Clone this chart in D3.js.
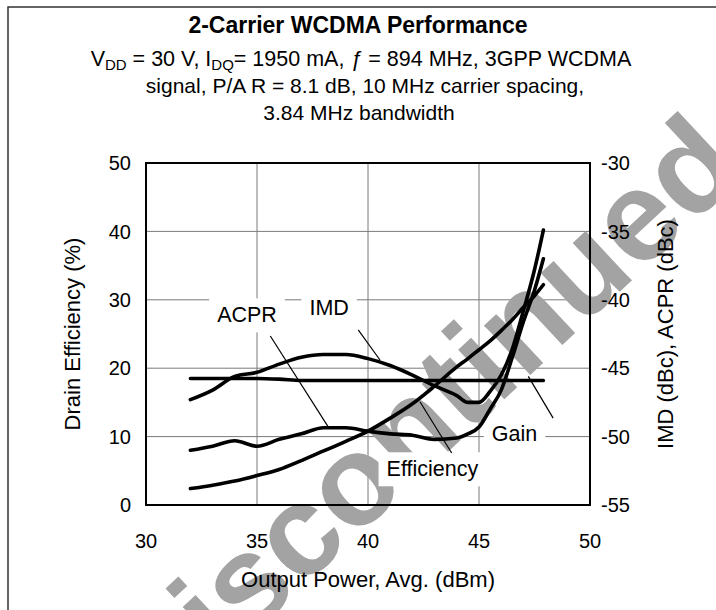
<!DOCTYPE html>
<html>
<head>
<meta charset="utf-8">
<script src="https://cdn.jsdelivr.net/npm/d3@7"></script>
<style>
  body { margin: 0; background: #fff; }
  svg { display: block; font-family: "Liberation Sans", Arial, sans-serif; }
  .grid line { stroke: #7a7a7a; stroke-width: 1; }
  .curve { fill: none; stroke: #000; stroke-width: 3.6; stroke-linejoin: round; stroke-linecap: round; }
  .leader { stroke: #000; stroke-width: 1.2; }
</style>
</head>
<body>
<script>
(function() {

    //chart values
    var pout = [32, 33, 34, 35, 36, 37, 38, 39, 40, 41, 42, 43, 44, 44.5, 45, 45.5, 46, 46.5, 47, 47.5, 47.9];
    var efficiency = [2.4, 2.9, 3.5, 4.3, 5.2, 6.5, 7.9, 9.3, 10.8, 12.7, 14.8, 17.4, 20.2, 21.4, 22.7, 24.0, 25.5, 27.1, 28.9, 30.6, 32.2];
    var gain = [18.5, 18.5, 18.5, 18.5, 18.4, 18.2, 18.2, 18.2, 18.2, 18.2, 18.2, 18.2, 18.2, 18.2, 18.2, 18.2, 18.2, 18.2, 18.2, 18.2, 18.2];
    var imd = [-47.3, -46.6, -45.6, -45.3, -44.7, -44.2, -44.0, -44.0, -44.3, -44.8, -45.5, -46.3, -47.0, -47.5, -47.5, -46.7, -45.5, -43.6, -40.8, -37.8, -34.9];
    var acpr = [-51.0, -50.7, -50.3, -50.7, -50.2, -49.8, -49.35, -49.35, -49.6, -49.8, -49.9, -50.2, -50.1, -49.8, -49.3, -48.0, -46.6, -44.2, -41.6, -39.3, -37.0];

    var xTicks = [30, 35, 40, 45, 50];
    var leftTicks = [0, 10, 20, 30, 40, 50];
    var rightTicks = [-55, -50, -45, -40, -35, -30];

    //callout labels: text, label anchor (pout, left value), leader from/to (pout, left value)
    var labelNames = ["ACPR", "IMD", "Efficiency", "Gain"];
    var labelAt = [[34.55, 26.7], [38.25, 27.8], [42.9, 4.2], [46.6, 9.3]];
    var leaderFrom = [[35.6, 24.7], [39.56, 25.6], [42.34, 15.1], [47.22, 18.8]];
    var leaderTo = [[38.2, 11.45], [40.54, 21.2], [43.77, 7.6], [48.34, 12.7]];

    var width = 716, height = 610;
    var margin = {top: 163, right: 126, bottom: 105, left: 146};

    var svg = d3.select("body")
        .append("svg")
        .attr("width", width)
        .attr("height", height);

    //outer frame (only top and left edges fall inside the picture)
    svg.append("rect")
        .attr("x", 8)
        .attr("y", 7)
        .attr("width", width + 20)
        .attr("height", height + 20)
        .attr("fill", "none")
        .attr("stroke", "#333")
        .attr("stroke-width", 1.5);

    var x = d3.scaleLinear().domain([30, 50]).range([margin.left, width - margin.right]);
    var yL = d3.scaleLinear().domain([0, 50]).range([height - margin.bottom, margin.top]);
    var yR = d3.scaleLinear().domain([-55, -30]).range([height - margin.bottom, margin.top]);

    //titles
    svg.append("text")
        .attr("x", 358)
        .attr("y", 33)
        .attr("text-anchor", "middle")
        .style("font-size", "23px")
        .style("font-weight", "bold")
        .text("2-Carrier WCDMA Performance");

    var sub = svg.append("text")
        .attr("x", 361)
        .attr("y", 66)
        .attr("text-anchor", "middle")
        .style("font-size", "21.5px");
    sub.append("tspan").text("V");
    sub.append("tspan").attr("dy", 4).style("font-size", "15px").text("DD");
    sub.append("tspan").attr("dy", -4).text(" = 30 V, I");
    sub.append("tspan").attr("dy", 4).style("font-size", "15px").text("DQ");
    sub.append("tspan").attr("dy", -4).text("= 1950 mA, ");
    sub.append("tspan").style("font-style", "italic").text("\u0192");
    sub.append("tspan").text(" = 894 MHz, 3GPP WCDMA");

    svg.append("text")
        .attr("x", 365)
        .attr("y", 93)
        .attr("text-anchor", "middle")
        .style("font-size", "21px")
        .text("signal, P/A R = 8.1 dB, 10 MHz carrier spacing,");

    svg.append("text")
        .attr("x", 359)
        .attr("y", 120)
        .attr("text-anchor", "middle")
        .style("font-size", "21px")
        .text("3.84 MHz bandwidth");

    //grid
    var grid = svg.append("g").attr("class", "grid");
    grid.selectAll(".v")
        .data(xTicks.slice(1, -1))
        .enter()
        .append("line")
        .attr("x1", function(d){ return x(d); })
        .attr("x2", function(d){ return x(d); })
        .attr("y1", yL(0))
        .attr("y2", yL(50));
    grid.selectAll(".h")
        .data(leftTicks.slice(1, -1))
        .enter()
        .append("line")
        .attr("x1", x(30))
        .attr("x2", x(50))
        .attr("y1", function(d){ return yL(d); })
        .attr("y2", function(d){ return yL(d); });

    //watermark
    svg.append("text")
        .attr("transform", "translate(451,449) rotate(-43)")
        .attr("text-anchor", "middle")
        .style("font-size", "128px")
        .style("font-weight", "bold")
        .attr("fill", "#a3a3a3")
        .text("Discontinued");

    //callout labels with white boxes that break the grid
    var labels = svg.append("g");
    labelNames.forEach(function(name, i){
        var t = labels.append("text")
            .attr("x", x(labelAt[i][0]))
            .attr("y", yL(labelAt[i][1]))
            .attr("text-anchor", "middle")
            .style("font-size", "21.5px")
            .text(name);
        var bb = t.node().getBBox();
        labels.insert("rect", "text")
            .attr("x", bb.x - 8)
            .attr("y", bb.y - 5)
            .attr("width", bb.width + 16)
            .attr("height", bb.height + 10)
            .attr("fill", "#fff");
    });

    //plot frame
    svg.append("rect")
        .attr("x", x(30))
        .attr("y", yL(50))
        .attr("width", x(50) - x(30))
        .attr("height", yL(0) - yL(50))
        .attr("fill", "none")
        .attr("stroke", "#000")
        .attr("stroke-width", 2);

    //curves
    var lineL = function(vals){
        return d3.line()
            .x(function(d, i){ return x(pout[i]); })
            .y(function(d){ return yL(d); })
            .curve(d3.curveMonotoneX)(vals);
    };
    var lineR = function(vals){
        return d3.line()
            .x(function(d, i){ return x(pout[i]); })
            .y(function(d){ return yR(d); })
            .curve(d3.curveMonotoneX)(vals);
    };
    svg.append("path").attr("class", "curve").attr("d", lineL(gain));
    svg.append("path").attr("class", "curve").attr("d", lineL(efficiency));
    svg.append("path").attr("class", "curve").attr("d", lineR(imd));
    svg.append("path").attr("class", "curve").attr("d", lineR(acpr));

    //leaders
    svg.selectAll(".leader")
        .data(leaderFrom)
        .enter()
        .append("line")
        .attr("class", "leader")
        .attr("x1", function(d){ return x(d[0]); })
        .attr("y1", function(d){ return yL(d[1]); })
        .attr("x2", function(d, i){ return x(leaderTo[i][0]); })
        .attr("y2", function(d, i){ return yL(leaderTo[i][1]); });

    //axes tick labels
    svg.selectAll(".lt")
        .data(leftTicks)
        .enter()
        .append("text")
        .attr("x", x(30) - 15)
        .attr("y", function(d){ return yL(d); })
        .attr("dy", "0.36em")
        .attr("text-anchor", "end")
        .style("font-size", "20px")
        .text(function(d){ return d; });

    svg.selectAll(".rt")
        .data(rightTicks)
        .enter()
        .append("text")
        .attr("x", x(50) + 11)
        .attr("y", function(d){ return yR(d); })
        .attr("dy", "0.36em")
        .attr("text-anchor", "start")
        .style("font-size", "20px")
        .text(function(d){ return d; });

    svg.selectAll(".bt")
        .data(xTicks)
        .enter()
        .append("text")
        .attr("x", function(d){ return x(d); })
        .attr("y", 548)
        .attr("text-anchor", "middle")
        .style("font-size", "20px")
        .text(function(d){ return d; });

    //axis titles
    svg.append("text")
        .attr("x", (x(30) + x(50)) / 2)
        .attr("y", 587)
        .attr("text-anchor", "middle")
        .style("font-size", "22px")
        .text("Output Power, Avg. (dBm)");

    svg.append("text")
        .attr("transform", "translate(80," + (yL(25)) + ") rotate(-90)")
        .attr("text-anchor", "middle")
        .style("font-size", "22px")
        .text("Drain Efficiency (%)");

    svg.append("text")
        .attr("transform", "translate(673," + (yR(-42.5)) + ") rotate(-90)")
        .attr("text-anchor", "middle")
        .style("font-size", "22px")
        .text("IMD (dBc), ACPR (dBc)");

})();
</script>
</body>
</html>
